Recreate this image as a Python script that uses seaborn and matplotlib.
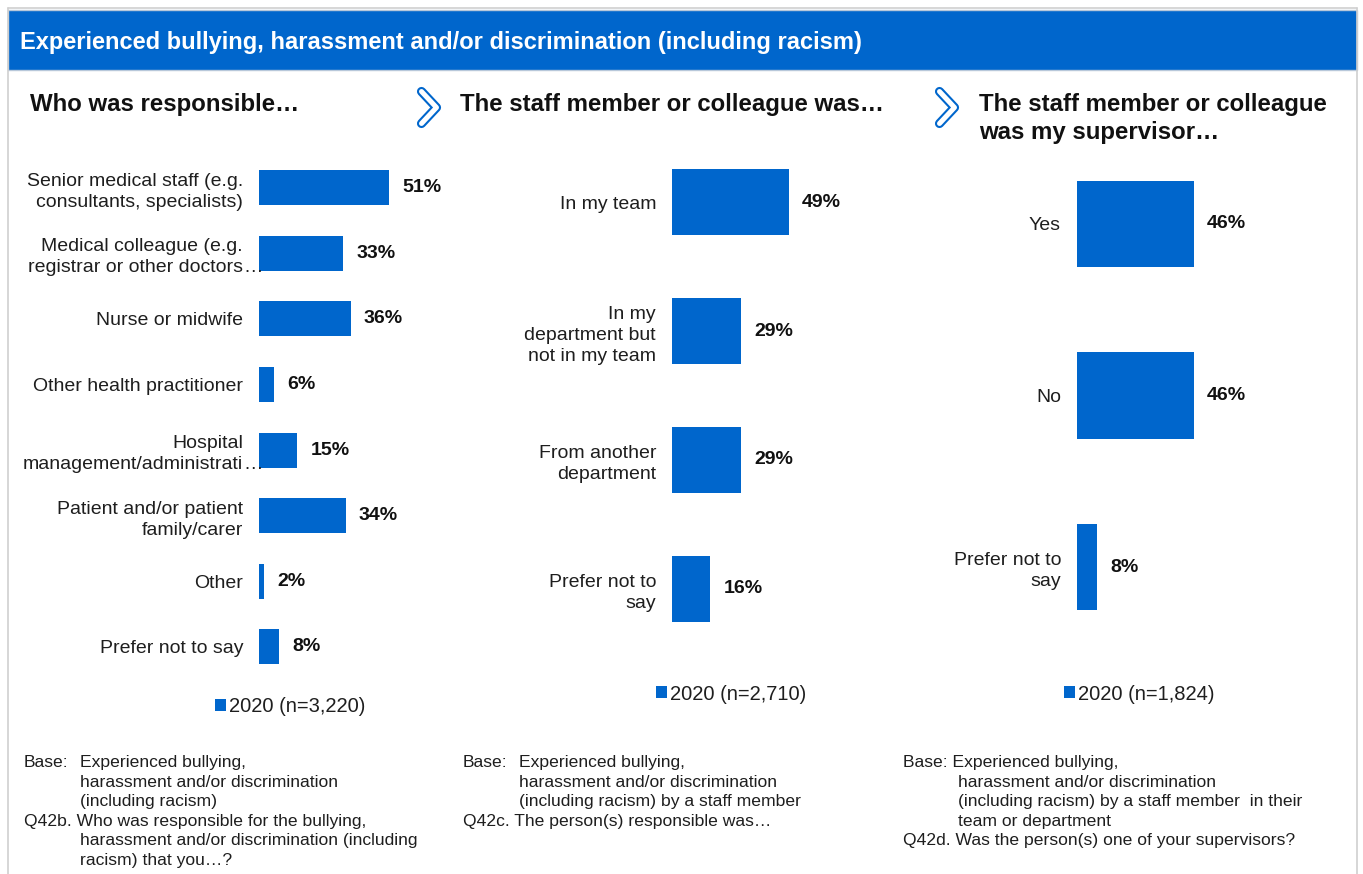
import matplotlib
matplotlib.use("Agg")
import matplotlib.pyplot as plt
from matplotlib.patches import Rectangle, Patch
from matplotlib.transforms import ScaledTranslation
import seaborn as sns

# ---- data -------------------------------------------------------------
header_title = "Experienced bullying, harassment and/or discrimination (including racism)"

responsible_labels = [
    "Senior medical staff (e.g.\nconsultants, specialists)",
    "Medical colleague (e.g.\nregistrar or other doctors…",
    "Nurse or midwife",
    "Other health practitioner",
    "Hospital\nmanagement/administrati…",
    "Patient and/or patient\nfamily/carer",
    "Other",
    "Prefer not to say",
]
responsible_pct = [51, 33, 36, 6, 15, 34, 2, 8]

colleague_labels = [
    "In my team",
    "In my\ndepartment but\nnot in my team",
    "From another\ndepartment",
    "Prefer not to\nsay",
]
colleague_pct = [49, 29, 29, 16]

supervisor_labels = ["Yes", "No", "Prefer not to\nsay"]
supervisor_pct = [46, 46, 8]

panel_titles = [
    ["Who was responsible…"],
    ["The staff member or colleague was…"],
    ["The staff member or colleague", "was my supervisor…"],
]
legend_labels = ["2020 (n=3,220)", "2020 (n=2,710)", "2020 (n=1,824)"]

footnotes = [
    [("Base:", "Experienced bullying,"),
     ("", "harassment and/or discrimination"),
     ("", "(including racism)"),
     ("Q42b. Who was responsible for the bullying,", None),
     ("", "harassment and/or discrimination (including"),
     ("", "racism) that you…?")],
    [("Base:", "Experienced bullying,"),
     ("", "harassment and/or discrimination"),
     ("", "(including racism) by a staff member"),
     ("Q42c. The person(s) responsible was…", None)],
    [("Base: Experienced bullying,", None),
     ("", "harassment and/or discrimination"),
     ("", "(including racism) by a staff member  in their"),
     ("", "team or department"),
     ("Q42d. Was the person(s) one of your supervisors?", None)],
]

# ---- style ------------------------------------------------------------
W, H = 1363, 874
BLUE = "#0066CC"
TEXT = "#1e1e1e"
FRAME = "#cfcfcf"
LABEL_PT = 14
LABEL_PAD = 11.5
LABEL_LS = 1.31

sns.set_theme(style="white")
plt.rcParams["font.family"] = ["Liberation Sans", "DejaVu Sans"]

fig = plt.figure(figsize=(W / 100, H / 100), dpi=100)
fig.patch.set_facecolor("white")

# pixel-space canvas for the frame, header, headings and notes
bg = fig.add_axes([0, 0, 1, 1], zorder=0)
bg.set_xlim(0, W)
bg.set_ylim(H, 0)
bg.axis("off")

# outer frame
bg.plot([8, 8], [8, H], color=FRAME, lw=1.2)
bg.plot([1357, 1357], [8, H], color=FRAME, lw=1.2)
bg.plot([8, 1357], [8, 8], color=FRAME, lw=1.2)

# header band
bg.add_patch(Rectangle((8, 10), 1349, 60, facecolor=BLUE, edgecolor="#b8c8da", lw=1))
bg.text(20, 42, header_title, color="white", fontsize=17, fontweight="bold",
        va="center", ha="left")

# panel headings
title_x = [30, 460, 979]
for tx, lines in zip(title_x, panel_titles):
    for i, line in enumerate(lines):
        bg.text(tx, 104 + i * 29, line, fontsize=17.3, fontweight="bold",
                color="#111111", va="center", ha="left")

# chevrons between panels
for dx in (0, 518):
    xs = [421.5 + dx, 436.5 + dx, 421.5 + dx]
    ys = [91.5, 107.5, 123.5]
    bg.plot(xs, ys, color=BLUE, lw=6.6, solid_capstyle="round", solid_joinstyle="round")
    bg.plot(xs, ys, color="white", lw=3.6, solid_capstyle="round", solid_joinstyle="round")

# footnotes
foot_pos = [(24, 80), (463, 519), (903, 958)]
for (x0, xi), lines in zip(foot_pos, footnotes):
    for i, (lead, rest) in enumerate(lines):
        y = 767 + i * 19.6
        if lead:
            bg.text(x0, y, lead, fontsize=12.6, color=TEXT, va="baseline", ha="left")
        if rest:
            bg.text(xi, y, rest, fontsize=12.6, color=TEXT, va="baseline", ha="left")


def px_axes(left, top, width, height):
    return fig.add_axes([left / W, 1 - (top + height) / H, width / W, height / H], zorder=2)


panels = [
    dict(labels=responsible_labels, values=responsible_pct, left=259, top=154.7,
         bottom=679.8, scale=2.55, bw=0.533, legend=(290, 707)),
    dict(labels=colleague_labels, values=colleague_pct, left=672, top=137.9,
         bottom=653.1, scale=2.39, bw=0.512, legend=(731, 694)),
    dict(labels=supervisor_labels, values=supervisor_pct, left=1077, top=138.25,
         bottom=652.75, scale=2.54, bw=0.507, legend=(1139, 694)),
]

for p, leg_label in zip(panels, legend_labels):
    width_px = 200
    ax = px_axes(p["left"], p["top"], width_px, p["bottom"] - p["top"])
    sns.barplot(x=p["values"], y=p["labels"], orient="h", color=BLUE,
                saturation=1, width=p["bw"], linewidth=0, ax=ax)
    n = len(p["values"])
    ax.set_ylim(n - 0.5, -0.5)
    ax.set_xlim(0, width_px / p["scale"])
    ax.set_xticks([])
    ax.set_xlabel("")
    ax.set_ylabel("")
    ax.patch.set_alpha(0)
    for s in ax.spines.values():
        s.set_visible(False)
    ax.tick_params(axis="y", length=0, pad=LABEL_PAD, labelsize=LABEL_PT, labelcolor=TEXT)

    # truncated labels: the ellipsis runs past the right edge of the label column
    shown = [lab[:-1] if lab.endswith("…") else lab for lab in p["labels"]]
    ax.set_yticks(range(n))
    ax.set_yticklabels(shown, linespacing=LABEL_LS)
    ell_trans = ax.get_yaxis_transform() + ScaledTranslation(
        -LABEL_PAD / 72, 0, fig.dpi_scale_trans)
    for i, lab in enumerate(p["labels"]):
        if lab.endswith("…"):
            nlines = lab.count("\n") + 1
            ax.text(0, i, "\n".join([" "] * (nlines - 1) + ["…"]),
                    transform=ell_trans, ha="left", va="center_baseline",
                    fontsize=LABEL_PT, linespacing=LABEL_LS, color=TEXT,
                    clip_on=False, zorder=5)

    ax.bar_label(ax.containers[0], labels=[f"{v}%" for v in p["values"]],
                 padding=9.4, fontsize=14, fontweight="bold", color="#111111")
    cx, cy = p["legend"]
    ax.legend(handles=[Patch(facecolor=BLUE, edgecolor="none", label=leg_label)],
              loc="center", bbox_to_anchor=(cx / W, 1 - cy / H),
              bbox_transform=fig.transFigure, frameon=False, fontsize=14.5,
              handlelength=0.55, handleheight=0.55, handletextpad=0.15,
              borderpad=0, borderaxespad=0, labelcolor=TEXT)

fig.savefig("out.png", dpi=100, facecolor="white")
